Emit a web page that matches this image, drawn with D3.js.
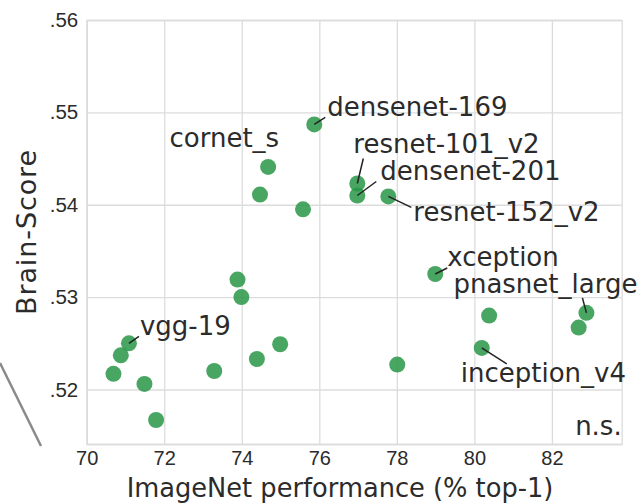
<!DOCTYPE html>
<html>
<head>
<meta charset="utf-8">
<script src="https://cdn.jsdelivr.net/npm/d3@7"></script>
<style>
  html, body { margin: 0; padding: 0; background: #fff; }
  svg { display: block; font-family: "DejaVu Sans", Verdana, sans-serif; }
</style>
</head>
<body>
<div id="chart"></div>
<script>
// dados
const imagenet = [70.69, 70.88, 71.09, 71.49, 71.79, 73.29, 73.89, 73.99, 74.39, 74.99,
  74.47, 74.68, 75.58, 75.87, 76.98, 76.98, 77.78, 78.01, 78.99, 80.19, 80.38, 82.69, 82.89];
const brainScore = [.5217, .5237, .5250, .5206, .5167, .5220, .5319, .5300, .5233, .5249,
  .5411, .5441, .5395, .5487, .5423, .5410, .5409, .5227, .5325, .5245, .5280, .5267, .5283];
const modelNames = ['', '', 'vgg-19', '', '', '', '', '', '', '',
  '', 'cornet_s', '', 'densenet-169', 'resnet-101_v2', 'densenet-201', 'resnet-152_v2', '',
  'xception', 'inception_v4', '', '', 'pnasnet_large'];
const xTicks = [70, 72, 74, 76, 78, 80, 82];
const yTicks = [.52, .53, .54, .55, .56];

// posição dos rótulos (texto e fim da linha guia, relativo ao ponto)
const labelPos = {
  'vgg-19':        { tx: 11, ty: -8, anchor: 'start', lx: 10, ly: -7 },
  'cornet_s':      { tx: 11, ty: -20, anchor: 'end', lx: null },
  'densenet-169':  { tx: 13, ty: -8, anchor: 'start', lx: 11, ly: -7 },
  'resnet-101_v2': { tx: -4, ty: -31, anchor: 'start', lx: 6, ly: -25 },
  'densenet-201':  { tx: 23, ty: -16, anchor: 'start', lx: 19, ly: -14 },
  'resnet-152_v2': { tx: 25, ty: 25, anchor: 'start', lx: 23, ly: 11 },
  'xception':      { tx: 12, ty: -8, anchor: 'start', lx: 12, ly: -6 },
  'inception_v4':  { tx: -21, ty: 34, anchor: 'start', lx: 25, ly: 16 },
  'pnasnet_large': { tx: -133, ty: -20, anchor: 'start', lx: -4, ly: -15 }
};

const data = imagenet.map((v, i) => ({ x: v, y: brainScore[i], name: modelNames[i] }));

const W = 642, H = 504;
const plotLeft = 86.7, plotRight = 621.7, plotTop = 20, plotBottom = 444;

const svg = d3.select('#chart').append('svg')
  .attr('width', W)
  .attr('height', H);

const x = d3.scaleLinear().domain([70, 83.8]).range([plotLeft, plotRight]);
const y = d3.scaleLinear().domain([0.5141, 0.56]).range([plotBottom, plotTop]);

const gridColor = '#dcdcdc';
const textColor = '#2b2b2b';

// eixo X com grade
const xAxisG = svg.append('g')
  .attr('transform', `translate(0,${plotBottom})`)
  .call(d3.axisBottom(x).tickValues(xTicks).tickSize(-(plotBottom - plotTop)).tickPadding(7).tickFormat(d3.format('d')));
xAxisG.select('.domain').attr('stroke', gridColor).attr('stroke-width', 1.3);
xAxisG.selectAll('.tick line').attr('stroke', gridColor).attr('stroke-width', 1.3);
xAxisG.selectAll('text').attr('fill', textColor).style('font-size', '20px');

// eixo Y com grade
const yAxisG = svg.append('g')
  .attr('transform', `translate(${plotLeft},0)`)
  .call(d3.axisLeft(y).tickValues(yTicks).tickSize(-(plotRight - plotLeft)).tickPadding(8.5)
    .tickFormat(d => d3.format('.2f')(d).replace(/^0/, '')));
yAxisG.select('.domain').attr('stroke', gridColor).attr('stroke-width', 1.3);
yAxisG.selectAll('.tick line').attr('stroke', gridColor).attr('stroke-width', 1.3);
yAxisG.selectAll('text').attr('fill', textColor).style('font-size', '20.5px');

// pontos
svg.selectAll('circle.pt')
  .data(data)
  .enter()
  .append('circle')
  .attr('class', 'pt')
  .attr('cx', d => x(d.x))
  .attr('cy', d => y(d.y))
  .attr('r', 8)
  .attr('fill', 'rgb(40,150,70)')
  .attr('fill-opacity', 0.85);

const labeled = data.filter(d => d.name && labelPos[d.name]);

// linhas guia
svg.selectAll('line.leader')
  .data(labeled.filter(d => labelPos[d.name].lx !== null))
  .enter()
  .append('line')
  .attr('class', 'leader')
  .attr('x1', d => x(d.x))
  .attr('y1', d => y(d.y))
  .attr('x2', d => x(d.x) + labelPos[d.name].lx)
  .attr('y2', d => y(d.y) + labelPos[d.name].ly)
  .attr('stroke', '#222')
  .attr('stroke-width', 1.5);

// rótulos
svg.selectAll('text.label')
  .data(labeled)
  .enter()
  .append('text')
  .attr('class', 'label')
  .attr('x', d => x(d.x) + labelPos[d.name].tx)
  .attr('y', d => y(d.y) + labelPos[d.name].ty)
  .attr('text-anchor', d => labelPos[d.name].anchor)
  .attr('fill', textColor)
  .style('font-size', '26px')
  .text(d => d.name);

// n.s.
svg.append('text')
  .attr('x', plotRight)
  .attr('y', 435)
  .attr('text-anchor', 'end')
  .attr('fill', textColor)
  .style('font-size', '26px')
  .text('n.s.');

// títulos dos eixos
svg.append('text')
  .attr('x', 340)
  .attr('y', 497)
  .attr('text-anchor', 'middle')
  .attr('fill', textColor)
  .style('font-size', '25.7px')
  .text('ImageNet performance (% top-1)');

svg.append('text')
  .attr('transform', 'translate(36,232) rotate(-90)')
  .attr('text-anchor', 'middle')
  .attr('fill', textColor)
  .style('font-size', '27px')
  .style('letter-spacing', '0.9px')
  .text('Brain-Score');

// traço cinza cortado à esquerda (resto da figura original)
svg.append('line')
  .attr('x1', 0).attr('y1', 363)
  .attr('x2', 41).attr('y2', 446)
  .attr('stroke', '#8a8a8a')
  .attr('stroke-width', 2.5);
</script>
</body>
</html>
